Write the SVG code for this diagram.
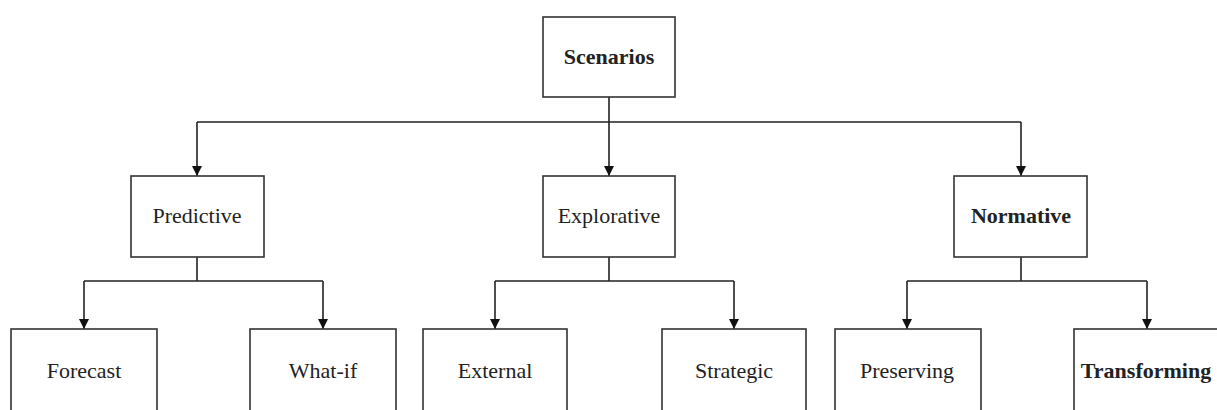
<svg xmlns="http://www.w3.org/2000/svg" width="1217" height="410" viewBox="0 0 1217 410">
  <defs>
    <marker id="arrow" viewBox="0 0 10 10" refX="10" refY="5" markerWidth="10" markerHeight="10" markerUnits="userSpaceOnUse" orient="auto">
      <path d="M0,0 L10,5 L0,10 Z" fill="#111"/>
    </marker>
    <style>
      .box { fill: #fff; stroke: #333; stroke-width: 1.6; }
      .lbl { font-family: "Liberation Serif", "Times New Roman", serif; font-size: 22px; fill: #222; text-anchor: middle; }
      .bold { font-weight: bold; }
      .wire { fill: none; stroke: #222; stroke-width: 1.6; }
      .arr { fill: none; stroke: #222; stroke-width: 1.6; marker-end: url(#arrow); }
    </style>
  </defs>
  <rect width="1217" height="410" fill="#fff"/>

  <!-- connectors -->
  <g id="connectors">
    <!-- root to level 1 -->
    <path class="wire" d="M609,97 V122 M197,122 H1021"/>
    <path class="arr" d="M197,122 V176"/>
    <path class="arr" d="M609,122 V176"/>
    <path class="arr" d="M1021,122 V176"/>
    <!-- Predictive to children -->
    <path class="wire" d="M197,257 V281 M84,281 H323"/>
    <path class="arr" d="M84,281 V329"/>
    <path class="arr" d="M323,281 V329"/>
    <!-- Explorative to children -->
    <path class="wire" d="M609,257 V281 M495,281 H734"/>
    <path class="arr" d="M495,281 V329"/>
    <path class="arr" d="M734,281 V329"/>
    <!-- Normative to children -->
    <path class="wire" d="M1021,257 V281 M907,281 H1147"/>
    <path class="arr" d="M907,281 V329"/>
    <path class="arr" d="M1147,281 V329"/>
  </g>

  <g id="scenarios">
    <rect class="box" x="543" y="17" width="132" height="80"/>
    <text class="lbl bold" x="609" y="64">Scenarios</text>
  </g>

  <g id="predictive">
    <rect class="box" x="131" y="176" width="133" height="81"/>
    <text class="lbl" x="197" y="223">Predictive</text>
  </g>
  <g id="explorative">
    <rect class="box" x="543" y="176" width="132" height="81"/>
    <text class="lbl" x="609" y="223">Explorative</text>
  </g>
  <g id="normative">
    <rect class="box" x="954" y="176" width="133" height="81"/>
    <text class="lbl bold" x="1021" y="223">Normative</text>
  </g>

  <g id="forecast">
    <rect class="box" x="11" y="329" width="146" height="100"/>
    <text class="lbl" x="84" y="378">Forecast</text>
  </g>
  <g id="what-if">
    <rect class="box" x="250" y="329" width="146" height="100"/>
    <text class="lbl" x="323" y="378">What-if</text>
  </g>
  <g id="external">
    <rect class="box" x="423" y="329" width="144" height="100"/>
    <text class="lbl" x="495" y="378">External</text>
  </g>
  <g id="strategic">
    <rect class="box" x="662" y="329" width="144" height="100"/>
    <text class="lbl" x="734" y="378">Strategic</text>
  </g>
  <g id="preserving">
    <rect class="box" x="835" y="329" width="146" height="100"/>
    <text class="lbl" x="907" y="378">Preserving</text>
  </g>
  <g id="transforming">
    <rect class="box" x="1074" y="329" width="146" height="100"/>
    <text class="lbl bold" x="1146" y="378">Transforming</text>
  </g>
</svg>
